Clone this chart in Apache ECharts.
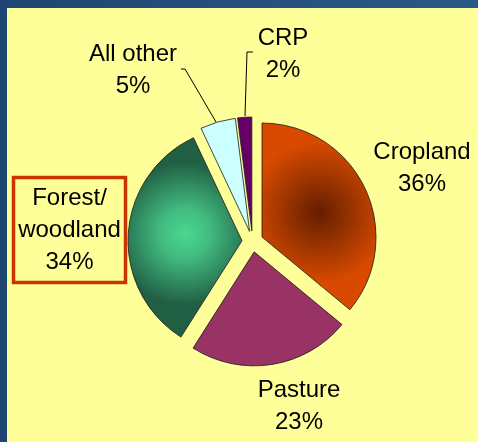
<!DOCTYPE html>
<html>
<head>
<meta charset="utf-8">
<script src="https://cdn.jsdelivr.net/npm/echarts@6/dist/echarts.min.js"></script>
<style>
  html, body { margin: 0; padding: 0; }
  body {
    width: 478px; height: 442px; overflow: hidden;
    background: linear-gradient(90deg, #1f4672 0%, #2a5988 100%);
  }
  #chart {
    position: absolute; left: 7px; top: 8px;
    width: 471px; height: 434px;
    background: #ffff99;
  }
</style>
</head>
<body>
<div id="chart"></div>
<script>
// land use shares, clockwise from 12 o'clock
const categories = ["Cropland", "Pasture", "Forest/woodland", "All other", "CRP"];
const shares = [36, 23, 34, 5, 2];

// label block centres (chart coordinates)
const labelSpots = [
  [415, 160],
  [292, 398],
  [62.5, 222],
  [126, 62],
  [276, 46]
];
// leader lines for the two thin slices
const leaderLines = {
  3: [[209, 114], [178, 61], [174, 61]],
  4: [[238, 108], [240, 44], [246, 44]]
};

const sliceColors = [
  {
    type: "radial", x: 0.5, y: 0.48, r: 0.62,
    colorStops: [
      { offset: 0, color: "#661c00" },
      { offset: 0.3, color: "#862c00" },
      { offset: 1, color: "#d84a00" }
    ]
  },
  "#993366",
  {
    type: "radial", x: 0.5, y: 0.48, r: 0.62,
    colorStops: [
      { offset: 0, color: "#4ad890" },
      { offset: 0.35, color: "#41bb80" },
      { offset: 1, color: "#215f45" }
    ]
  },
  "#ccffff",
  "#660066"
];

const chart = echarts.init(document.getElementById("chart"));

const center = [245.5, 233.5];
const radius = [0, 114];

// exploded slices
const sliceData = categories.map((name, i) => ({
  name: name,
  value: shares[i],
  selected: true,
  itemStyle: { color: sliceColors[i] }
}));

// same slices again, unexploded and invisible, only to carry the labels
const labelData = categories.map((name, i) => {
  const item = {
    name: name,
    value: shares[i],
    labelLine: { show: !!leaderLines[i] }
  };
  if (i === 2) {
    item.label = {
      width: 108,
      borderColor: "#cc3300",
      borderWidth: 3.5,
      padding: [9, 2, 0, 2]
    };
  }
  return item;
});

const option = {
  animation: false,
  series: [
    {
      type: "pie",
      center: center,
      radius: radius,
      startAngle: 90,
      clockwise: true,
      selectedMode: "multiple",
      selectedOffset: 10.5,
      silent: true,
      itemStyle: {
        borderColor: "#1a1a1a",
        borderWidth: 0.8
      },
      label: { show: false },
      labelLine: { show: false },
      data: sliceData
    },
    {
      type: "pie",
      center: center,
      radius: radius,
      startAngle: 90,
      clockwise: true,
      silent: true,
      selectedMode: false,
      itemStyle: { color: "rgba(0,0,0,0)", borderWidth: 0 },
      label: {
        show: true,
        position: "outside",
        fontFamily: "Liberation Sans",
        fontSize: 24,
        lineHeight: 32,
        color: "#000",
        align: "center",
        overflow: "none",
        formatter: p => p.name.replace("/", "/\n") + "\n" + p.value + "%"
      },
      labelLine: {
        show: true,
        lineStyle: { color: "#000", width: 1 }
      },
      labelLayout: params => {
        const spot = labelSpots[params.dataIndex];
        const out = {
          x: spot[0],
          y: spot[1],
          align: "center",
          verticalAlign: "middle"
        };
        if (leaderLines[params.dataIndex]) {
          out.labelLinePoints = leaderLines[params.dataIndex];
        }
        return out;
      },
      data: labelData
    }
  ]
};

chart.setOption(option);
</script>
</body>
</html>
